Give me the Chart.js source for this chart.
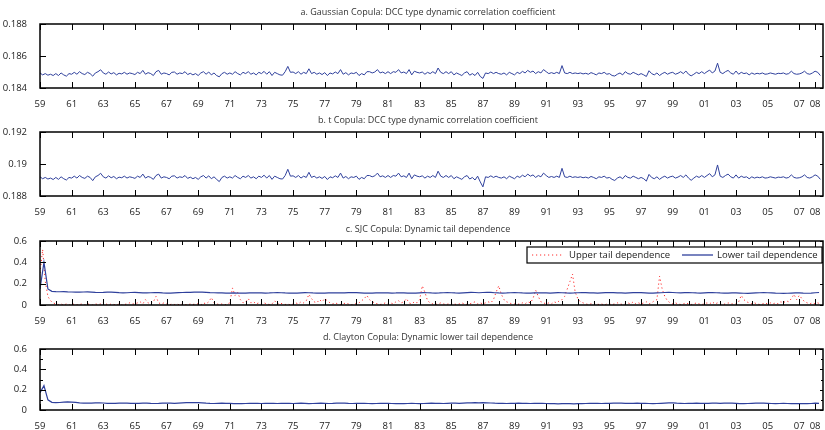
<!DOCTYPE html>
<html><head><meta charset="utf-8">
<script src="https://cdn.jsdelivr.net/npm/chart.js@4"></script>
<style>
body{margin:0;background:#fff;width:825px;height:430px;overflow:hidden;position:relative}
canvas{position:absolute;left:0}
</style></head><body>
<canvas id="pa" width="825" height="108" style="top:0px"></canvas>
<canvas id="pb" width="825" height="108" style="top:108px"></canvas>
<canvas id="pc" width="825" height="108" style="top:217px"></canvas>
<canvas id="pd" width="825" height="105" style="top:325px"></canvas>
<script>
// ---- data ----
const firstYear = 1959;
const noisyPerYear = 6;   // observations per year in the noisy series
const smoothPerYear = 4;  // observations per year in the smooth series
const xMin = 1959, xMax = 2008.5;

const tickYears = [1959,1961,1963,1965,1967,1969,1971,1973,1975,1977,1979,1981,1983,1985,1987,1989,1991,1993,1995,1997,1999,2001,2003,2005,2007,2008];
const tickLabels = ['59','61','63','65','67','69','71','73','75','77','79','81','83','85','87','89','91','93','95','97','99','01','03','05','07','08'];

const titleA = 'a. Gaussian Copula: DCC type dynamic correlation coefficient';
const titleB = 'b. t Copula: DCC type dynamic correlation coefficient';
const titleC = 'c. SJC Copula: Dynamic tail dependence';
const titleD = 'd. Clayton Copula: Dynamic lower tail dependence';

const yTicksA = [0.184, 0.186, 0.188];
const yTicksB = [0.188, 0.19, 0.192];
const yTicksC = [0, 0.2, 0.4, 0.6];
const yTicksD = [0, 0.2, 0.4, 0.6];

const gaussianDCC = [
0.18494,0.18482,0.18490,0.18480,0.18486,0.18478,0.18490,0.18478,0.18494,0.18482,0.18474,0.18490,
0.18486,0.18498,0.18486,0.18502,0.18490,0.18484,0.18498,0.18490,0.18474,0.18494,0.18502,0.18514,
0.18494,0.18486,0.18500,0.18488,0.18496,0.18482,0.18492,0.18488,0.18498,0.18486,0.18494,0.18490,
0.18484,0.18498,0.18490,0.18510,0.18486,0.18496,0.18490,0.18478,0.18502,0.18510,0.18486,0.18494,
0.18490,0.18482,0.18498,0.18500,0.18486,0.18494,0.18490,0.18502,0.18484,0.18492,0.18482,0.18490,
0.18478,0.18494,0.18502,0.18486,0.18500,0.18482,0.18494,0.18478,0.18470,0.18490,0.18498,0.18486,
0.18494,0.18486,0.18502,0.18490,0.18482,0.18498,0.18490,0.18502,0.18486,0.18494,0.18482,0.18498,
0.18490,0.18504,0.18486,0.18502,0.18478,0.18498,0.18490,0.18482,0.18480,0.18502,0.18535,0.18498,
0.18500,0.18490,0.18502,0.18486,0.18498,0.18490,0.18520,0.18490,0.18498,0.18486,0.18494,0.18484,
0.18496,0.18478,0.18494,0.18488,0.18500,0.18490,0.18515,0.18486,0.18496,0.18482,0.18494,0.18490,
0.18498,0.18478,0.18490,0.18482,0.18502,0.18502,0.18494,0.18500,0.18515,0.18494,0.18500,0.18490,
0.18502,0.18490,0.18502,0.18498,0.18515,0.18494,0.18500,0.18490,0.18515,0.18482,0.18505,0.18498,
0.18494,0.18500,0.18486,0.18498,0.18490,0.18502,0.18490,0.18525,0.18498,0.18490,0.18502,0.18490,
0.18502,0.18482,0.18494,0.18486,0.18478,0.18494,0.18502,0.18480,0.18490,0.18478,0.18498,0.18472,
0.18460,0.18494,0.18490,0.18500,0.18490,0.18498,0.18490,0.18486,0.18494,0.18482,0.18498,0.18490,
0.18482,0.18498,0.18490,0.18504,0.18494,0.18510,0.18498,0.18506,0.18490,0.18502,0.18494,0.18515,
0.18502,0.18490,0.18496,0.18490,0.18498,0.18490,0.18540,0.18494,0.18490,0.18498,0.18490,0.18494,
0.18490,0.18494,0.18488,0.18492,0.18486,0.18496,0.18490,0.18482,0.18494,0.18490,0.18498,0.18486,
0.18490,0.18478,0.18475,0.18486,0.18494,0.18482,0.18502,0.18490,0.18486,0.18498,0.18490,0.18482,
0.18490,0.18482,0.18472,0.18508,0.18490,0.18482,0.18494,0.18478,0.18490,0.18498,0.18486,0.18494,
0.18498,0.18486,0.18492,0.18502,0.18490,0.18506,0.18486,0.18476,0.18486,0.18498,0.18490,0.18502,
0.18490,0.18502,0.18512,0.18494,0.18506,0.18555,0.18498,0.18490,0.18502,0.18510,0.18494,0.18486,
0.18506,0.18486,0.18498,0.18490,0.18494,0.18482,0.18494,0.18486,0.18492,0.18488,0.18494,0.18486,
0.18488,0.18494,0.18490,0.18486,0.18492,0.18490,0.18494,0.18486,0.18490,0.18505,0.18490,0.18486,
0.18488,0.18494,0.18505,0.18490,0.18486,0.18494,0.18505,0.18498,0.18478
];

const tDCC = [
0.18920,0.18908,0.18916,0.18906,0.18912,0.18903,0.18916,0.18904,0.18920,0.18908,0.18900,0.18916,
0.18912,0.18924,0.18912,0.18928,0.18916,0.18910,0.18924,0.18916,0.18896,0.18920,0.18928,0.18942,
0.18920,0.18912,0.18926,0.18914,0.18922,0.18908,0.18918,0.18914,0.18924,0.18912,0.18920,0.18916,
0.18910,0.18924,0.18916,0.18937,0.18912,0.18922,0.18916,0.18904,0.18928,0.18937,0.18912,0.18920,
0.18916,0.18908,0.18924,0.18926,0.18912,0.18920,0.18916,0.18928,0.18910,0.18918,0.18908,0.18916,
0.18904,0.18920,0.18928,0.18912,0.18926,0.18908,0.18920,0.18904,0.18890,0.18916,0.18924,0.18912,
0.18920,0.18912,0.18928,0.18916,0.18908,0.18924,0.18916,0.18928,0.18912,0.18920,0.18908,0.18924,
0.18916,0.18930,0.18912,0.18928,0.18904,0.18924,0.18916,0.18908,0.18906,0.18928,0.18967,0.18924,
0.18926,0.18916,0.18928,0.18912,0.18924,0.18916,0.18948,0.18916,0.18924,0.18912,0.18920,0.18910,
0.18922,0.18903,0.18920,0.18914,0.18926,0.18916,0.18943,0.18912,0.18922,0.18908,0.18920,0.18916,
0.18924,0.18904,0.18916,0.18908,0.18928,0.18928,0.18920,0.18926,0.18943,0.18920,0.18926,0.18916,
0.18928,0.18916,0.18928,0.18924,0.18943,0.18920,0.18926,0.18916,0.18943,0.18908,0.18932,0.18924,
0.18920,0.18926,0.18912,0.18924,0.18916,0.18928,0.18916,0.18955,0.18924,0.18916,0.18928,0.18916,
0.18928,0.18908,0.18920,0.18912,0.18904,0.18920,0.18928,0.18906,0.18916,0.18900,0.18924,0.18888,
0.18857,0.18920,0.18916,0.18926,0.18916,0.18924,0.18916,0.18912,0.18920,0.18908,0.18924,0.18916,
0.18908,0.18924,0.18916,0.18930,0.18920,0.18937,0.18924,0.18932,0.18916,0.18928,0.18920,0.18943,
0.18928,0.18916,0.18922,0.18916,0.18924,0.18916,0.18973,0.18920,0.18916,0.18924,0.18916,0.18920,
0.18916,0.18920,0.18914,0.18918,0.18912,0.18922,0.18916,0.18908,0.18920,0.18916,0.18924,0.18912,
0.18916,0.18904,0.18897,0.18912,0.18920,0.18908,0.18928,0.18916,0.18912,0.18924,0.18916,0.18908,
0.18916,0.18908,0.18893,0.18935,0.18916,0.18908,0.18920,0.18904,0.18916,0.18924,0.18912,0.18920,
0.18924,0.18912,0.18918,0.18928,0.18916,0.18932,0.18912,0.18898,0.18912,0.18924,0.18916,0.18928,
0.18916,0.18928,0.18940,0.18920,0.18932,0.18994,0.18924,0.18916,0.18928,0.18937,0.18920,0.18912,
0.18932,0.18912,0.18924,0.18916,0.18920,0.18908,0.18920,0.18912,0.18918,0.18914,0.18920,0.18912,
0.18914,0.18920,0.18916,0.18912,0.18918,0.18916,0.18920,0.18912,0.18916,0.18932,0.18916,0.18912,
0.18914,0.18920,0.18932,0.18916,0.18912,0.18920,0.18932,0.18924,0.18904
];

const sjcUpper = [
0.30,0.52,0.22,0.08,0.04,0.02,0.01,0.005,0.01,0,0.01,0,
0,0.01,0,0.005,0.01,0,0.01,0.005,0,0.01,0.005,0.01,
0.03,0.01,0,0.01,0.005,0,0.01,0,0.005,0.01,0.02,0.01,
0.01,0.02,0.03,0.01,0.05,0.02,0.01,0.03,0.08,0.02,0.01,0.02,
0.01,0,0.01,0.005,0.01,0,0.01,0.005,0,0.01,0.005,0.01,
0.01,0,0.02,0.01,0.03,0.07,0.02,0.01,0.005,0.01,0,0.01,
0.02,0.16,0.09,0.12,0.05,0.02,0.03,0.06,0.02,0.03,0.01,0.02,
0.01,0.02,0.01,0.005,0.01,0.04,0.01,0.02,0.01,0.005,0.01,0,
0.01,0.02,0.01,0.03,0.02,0.04,0.10,0.06,0.03,0.02,0.05,0.03,
0.06,0.04,0.02,0.01,0.02,0.01,0.005,0.01,0.02,0.01,0,0.01,
0.01,0.02,0.04,0.06,0.09,0.05,0.03,0.02,0.01,0.005,0.01,0.02,
0.01,0.02,0.01,0.03,0.04,0.02,0.03,0.06,0.02,0.01,0.03,0.02,
0.05,0.18,0.12,0.04,0.02,0.01,0.005,0.01,0.02,0.01,0.005,0.01,
0.02,0.01,0.005,0.01,0.02,0.01,0.005,0.01,0.02,0.03,0.01,0.02,
0.01,0.02,0.03,0.02,0.05,0.12,0.18,0.10,0.05,0.03,0.02,0.01,
0.01,0.005,0.01,0.02,0.01,0.03,0.02,0.06,0.14,0.08,0.03,0.02,
0.01,0.02,0.01,0.03,0.02,0.04,0.05,0.08,0.15,0.22,0.29,0.12,
0.06,0.03,0.02,0.01,0.005,0.01,0.02,0.01,0.005,0.01,0,0.01,
0.01,0.005,0.01,0.02,0.01,0.005,0.01,0.02,0.01,0.03,0.01,0.02,
0.01,0.02,0.03,0.01,0.02,0.04,0.05,0.27,0.15,0.08,0.04,0.02,
0.01,0.02,0.01,0.005,0.01,0.02,0.01,0.005,0.01,0.02,0.01,0.005,
0.01,0.02,0.01,0.03,0.01,0.02,0.01,0.005,0.01,0.02,0.01,0.01,
0.01,0.03,0.09,0.05,0.03,0.02,0.01,0.02,0.01,0.005,0.01,0.02,
0.01,0.02,0.01,0.02,0.01,0.03,0.02,0.04,0.03,0.06,0.10,0.05,
0.09,0.06,0.03,0.02,0.01,0.02,0.01,0.02,0.01
];

const sjcLower = [
0.15,0.40,0.15,0.128,0.125,0.124,0.125,0.123,
0.122,0.121,0.120,0.122,0.123,0.121,0.118,0.117,
0.118,0.120,0.121,0.119,0.116,0.114,0.115,0.117,
0.118,0.116,0.114,0.113,0.115,0.117,0.116,0.113,
0.111,0.112,0.114,0.116,0.117,0.118,0.119,0.120,
0.121,0.120,0.118,0.116,0.115,0.114,0.113,0.112,
0.112,0.113,0.112,0.111,0.112,0.114,0.115,0.114,
0.113,0.112,0.113,0.115,0.116,0.115,0.113,0.112,
0.111,0.112,0.114,0.116,0.115,0.113,0.112,0.111,
0.112,0.114,0.115,0.114,0.113,0.114,0.116,0.117,
0.116,0.114,0.112,0.111,0.112,0.114,0.115,0.114,
0.113,0.112,0.113,0.115,0.114,0.112,0.111,0.112,
0.114,0.116,0.115,0.113,0.112,0.113,0.115,0.116,
0.115,0.113,0.112,0.114,0.116,0.118,0.117,0.115,
0.117,0.119,0.118,0.115,0.113,0.112,0.113,0.115,
0.116,0.115,0.113,0.112,0.111,0.113,0.115,0.114,
0.113,0.112,0.114,0.116,0.115,0.113,0.112,0.113,
0.115,0.117,0.116,0.114,0.113,0.112,0.114,0.116,
0.117,0.116,0.114,0.113,0.112,0.114,0.116,0.117,
0.116,0.114,0.112,0.111,0.113,0.115,0.117,0.118,
0.117,0.115,0.114,0.116,0.117,0.115,0.113,0.112,
0.114,0.116,0.117,0.115,0.113,0.112,0.111,0.113,
0.114,0.112,0.110,0.109,0.111,0.113,0.115,0.116,
0.115,0.113,0.111,0.110,0.109,0.110,0.112,0.114,
0.113,0.111,0.110,0.112,0.115,0.117
];

const claytonLower = [
0.17,0.24,0.10,0.075,0.072,0.074,0.077,0.079,
0.078,0.075,0.071,0.068,0.067,0.068,0.070,0.071,
0.069,0.066,0.065,0.066,0.068,0.069,0.068,0.066,
0.065,0.066,0.068,0.067,0.065,0.064,0.065,0.067,
0.068,0.067,0.066,0.068,0.070,0.072,0.073,0.074,
0.073,0.070,0.067,0.065,0.064,0.066,0.067,0.066,
0.065,0.063,0.062,0.063,0.064,0.065,0.066,0.065,
0.064,0.065,0.066,0.065,0.064,0.065,0.066,0.065,
0.064,0.066,0.067,0.065,0.063,0.064,0.066,0.067,
0.066,0.064,0.065,0.067,0.068,0.067,0.065,0.064,
0.065,0.066,0.065,0.064,0.063,0.064,0.065,0.066,
0.065,0.064,0.063,0.062,0.063,0.064,0.065,0.064,
0.063,0.064,0.066,0.067,0.066,0.065,0.064,0.066,
0.068,0.067,0.066,0.068,0.070,0.071,0.072,0.071,
0.073,0.071,0.069,0.067,0.066,0.065,0.064,0.065,
0.066,0.067,0.066,0.065,0.064,0.065,0.066,0.065,
0.064,0.063,0.062,0.061,0.062,0.063,0.062,0.061,
0.062,0.063,0.064,0.065,0.066,0.065,0.064,0.065,
0.066,0.067,0.068,0.067,0.066,0.065,0.066,0.067,
0.066,0.065,0.064,0.063,0.064,0.066,0.068,0.070,
0.071,0.068,0.066,0.064,0.065,0.066,0.067,0.066,
0.065,0.066,0.068,0.067,0.066,0.068,0.069,0.067,
0.065,0.063,0.062,0.064,0.066,0.068,0.069,0.068,
0.066,0.064,0.063,0.064,0.065,0.064,0.063,0.062,
0.062,0.063,0.062,0.064,0.068,0.066
];

// ---- rendering ----
Chart.defaults.font.family = "'Open Sans', 'DejaVu Sans', sans-serif";
Chart.defaults.color = '#222';
const BLUE = '#2f409c', RED = '#ff2a2a';

function toPoints(values, perYear) {
  return values.map((v, i) => ({ x: firstYear + i / perYear, y: v }));
}

const panelPlugin = {
  id: 'panel',
  afterDatasetsDraw(chart, args, o) {
    const { ctx, chartArea: a, scales: { x, y } } = chart;
    ctx.save();
    ctx.strokeStyle = '#000';
    ctx.lineWidth = 1;
    ctx.beginPath();
    tickYears.forEach(v => {
      const px = Math.round(x.getPixelForValue(v)) + 0.5;
      ctx.moveTo(px, a.bottom); ctx.lineTo(px, a.bottom - 6);
      ctx.moveTo(px, a.top); ctx.lineTo(px, a.top + 6);
    });
    if (o.everyYear) {
      for (let v = 1960; v <= 2008; v += 2) {
        const px = Math.round(x.getPixelForValue(v)) + 0.5;
        ctx.moveTo(px, a.bottom); ctx.lineTo(px, a.bottom - 4);
        ctx.moveTo(px, a.top); ctx.lineTo(px, a.top + 4);
      }
    }
    o.yTicks.forEach(v => {
      const py = Math.round(y.getPixelForValue(v)) + 0.5;
      ctx.moveTo(a.left, py); ctx.lineTo(a.left + 6, py);
      ctx.moveTo(a.right, py); ctx.lineTo(a.right - 3, py);
    });
    (o.yMinor || []).forEach(v => {
      const py = Math.round(y.getPixelForValue(v)) + 0.5;
      ctx.moveTo(a.left, py); ctx.lineTo(a.left + 3, py);
      ctx.moveTo(a.right, py); ctx.lineTo(a.right - 2, py);
    });
    ctx.stroke();
    ctx.lineWidth = 1.5;
    ctx.strokeRect(a.left, a.top, a.right - a.left, a.bottom - a.top);
    // title
    ctx.fillStyle = '#333';
    ctx.font = "9px 'Open Sans', sans-serif";
    ctx.textAlign = 'center';
    ctx.textBaseline = 'middle';
    ctx.fillText(o.title, 428, a.top - 11.5);
    // legend
    if (o.legend) {
      const L = { l: 527, t: a.top + 6, r: 822, b: a.top + 22 };
      ctx.fillStyle = '#fff';
      ctx.fillRect(L.l, L.t, L.r - L.l, L.b - L.t);
      ctx.lineWidth = 1.2;
      ctx.strokeStyle = '#000';
      ctx.strokeRect(L.l, L.t, L.r - L.l, L.b - L.t);
      const cy = (L.t + L.b) / 2;
      const ds = chart.data.datasets;
      ctx.lineWidth = 1;
      ctx.strokeStyle = ds[0].borderColor;
      ctx.setLineDash([1.2, 2.8]);
      ctx.beginPath(); ctx.moveTo(532, cy); ctx.lineTo(563, cy); ctx.stroke();
      ctx.setLineDash([]);
      ctx.strokeStyle = ds[1].borderColor;
      ctx.lineWidth = 1.3;
      ctx.beginPath(); ctx.moveTo(682, cy); ctx.lineTo(713, cy); ctx.stroke();
      ctx.fillStyle = '#222';
      ctx.font = "9.5px 'Open Sans', sans-serif";
      ctx.textAlign = 'left';
      ctx.fillText(ds[0].label, 569, cy);
      ctx.fillText(ds[1].label, 717, cy);
    }
    ctx.restore();
  }
};

function makePanel(id, datasets, yMin, yMax, yTicks, title, extra) {
  return new Chart(document.getElementById(id), {
    type: 'line',
    data: { datasets },
    plugins: [panelPlugin],
    options: {
      responsive: false,
      animation: false,
      events: [],
      layout: { padding: { top: 24, right: 2, left: 0, bottom: 0 } },
      elements: { point: { radius: 0 }, line: { tension: 0 } },
      plugins: {
        legend: { display: false },
        tooltip: { enabled: false },
        panel: Object.assign({ yTicks, title }, extra || {})
      },
      scales: {
        x: {
          type: 'linear', min: xMin, max: xMax,
          afterBuildTicks: s => { s.ticks = tickYears.map(v => ({ value: v })); },
          afterFit: s => { s.height = 20; },
          grid: { display: false }, border: { display: false },
          ticks: { autoSkip: false, maxRotation: 0, padding: 3, color: '#222',
                   font: { size: 9.5 }, callback: (v, i) => tickLabels[i] }
        },
        y: {
          min: yMin, max: yMax,
          afterBuildTicks: s => { s.ticks = yTicks.map(v => ({ value: v })); },
          afterFit: s => { s.width = 40; },
          grid: { display: false }, border: { display: false },
          ticks: { padding: 5, color: '#222', font: { size: 9.5 },
                   callback: v => String(+v.toFixed(3)) }
        }
      }
    }
  });
}

makePanel('pa', [
  { label: 'Gaussian DCC', data: toPoints(gaussianDCC, noisyPerYear), borderColor: BLUE, borderWidth: 1 }
], 0.184, 0.188, yTicksA, titleA);

makePanel('pb', [
  { label: 't DCC', data: toPoints(tDCC, noisyPerYear), borderColor: BLUE, borderWidth: 1 }
], 0.188, 0.192, yTicksB, titleB);

makePanel('pc', [
  { label: 'Upper tail dependence', data: toPoints(sjcUpper, noisyPerYear), borderColor: RED,
    borderWidth: 1, borderDash: [1.2, 2.8], order: 1 },
  { label: 'Lower tail dependence', data: toPoints(sjcLower, smoothPerYear), borderColor: BLUE,
    borderWidth: 1.2, order: 0 }
], 0, 0.6, yTicksC, titleC, { everyYear: true, legend: true });

makePanel('pd', [
  { label: 'Lower tail dependence', data: toPoints(claytonLower, smoothPerYear), borderColor: BLUE, borderWidth: 1.2 }
], 0, 0.6, yTicksD, titleD, { yMinor: [0.1, 0.3, 0.5] });
</script>
</body></html>
